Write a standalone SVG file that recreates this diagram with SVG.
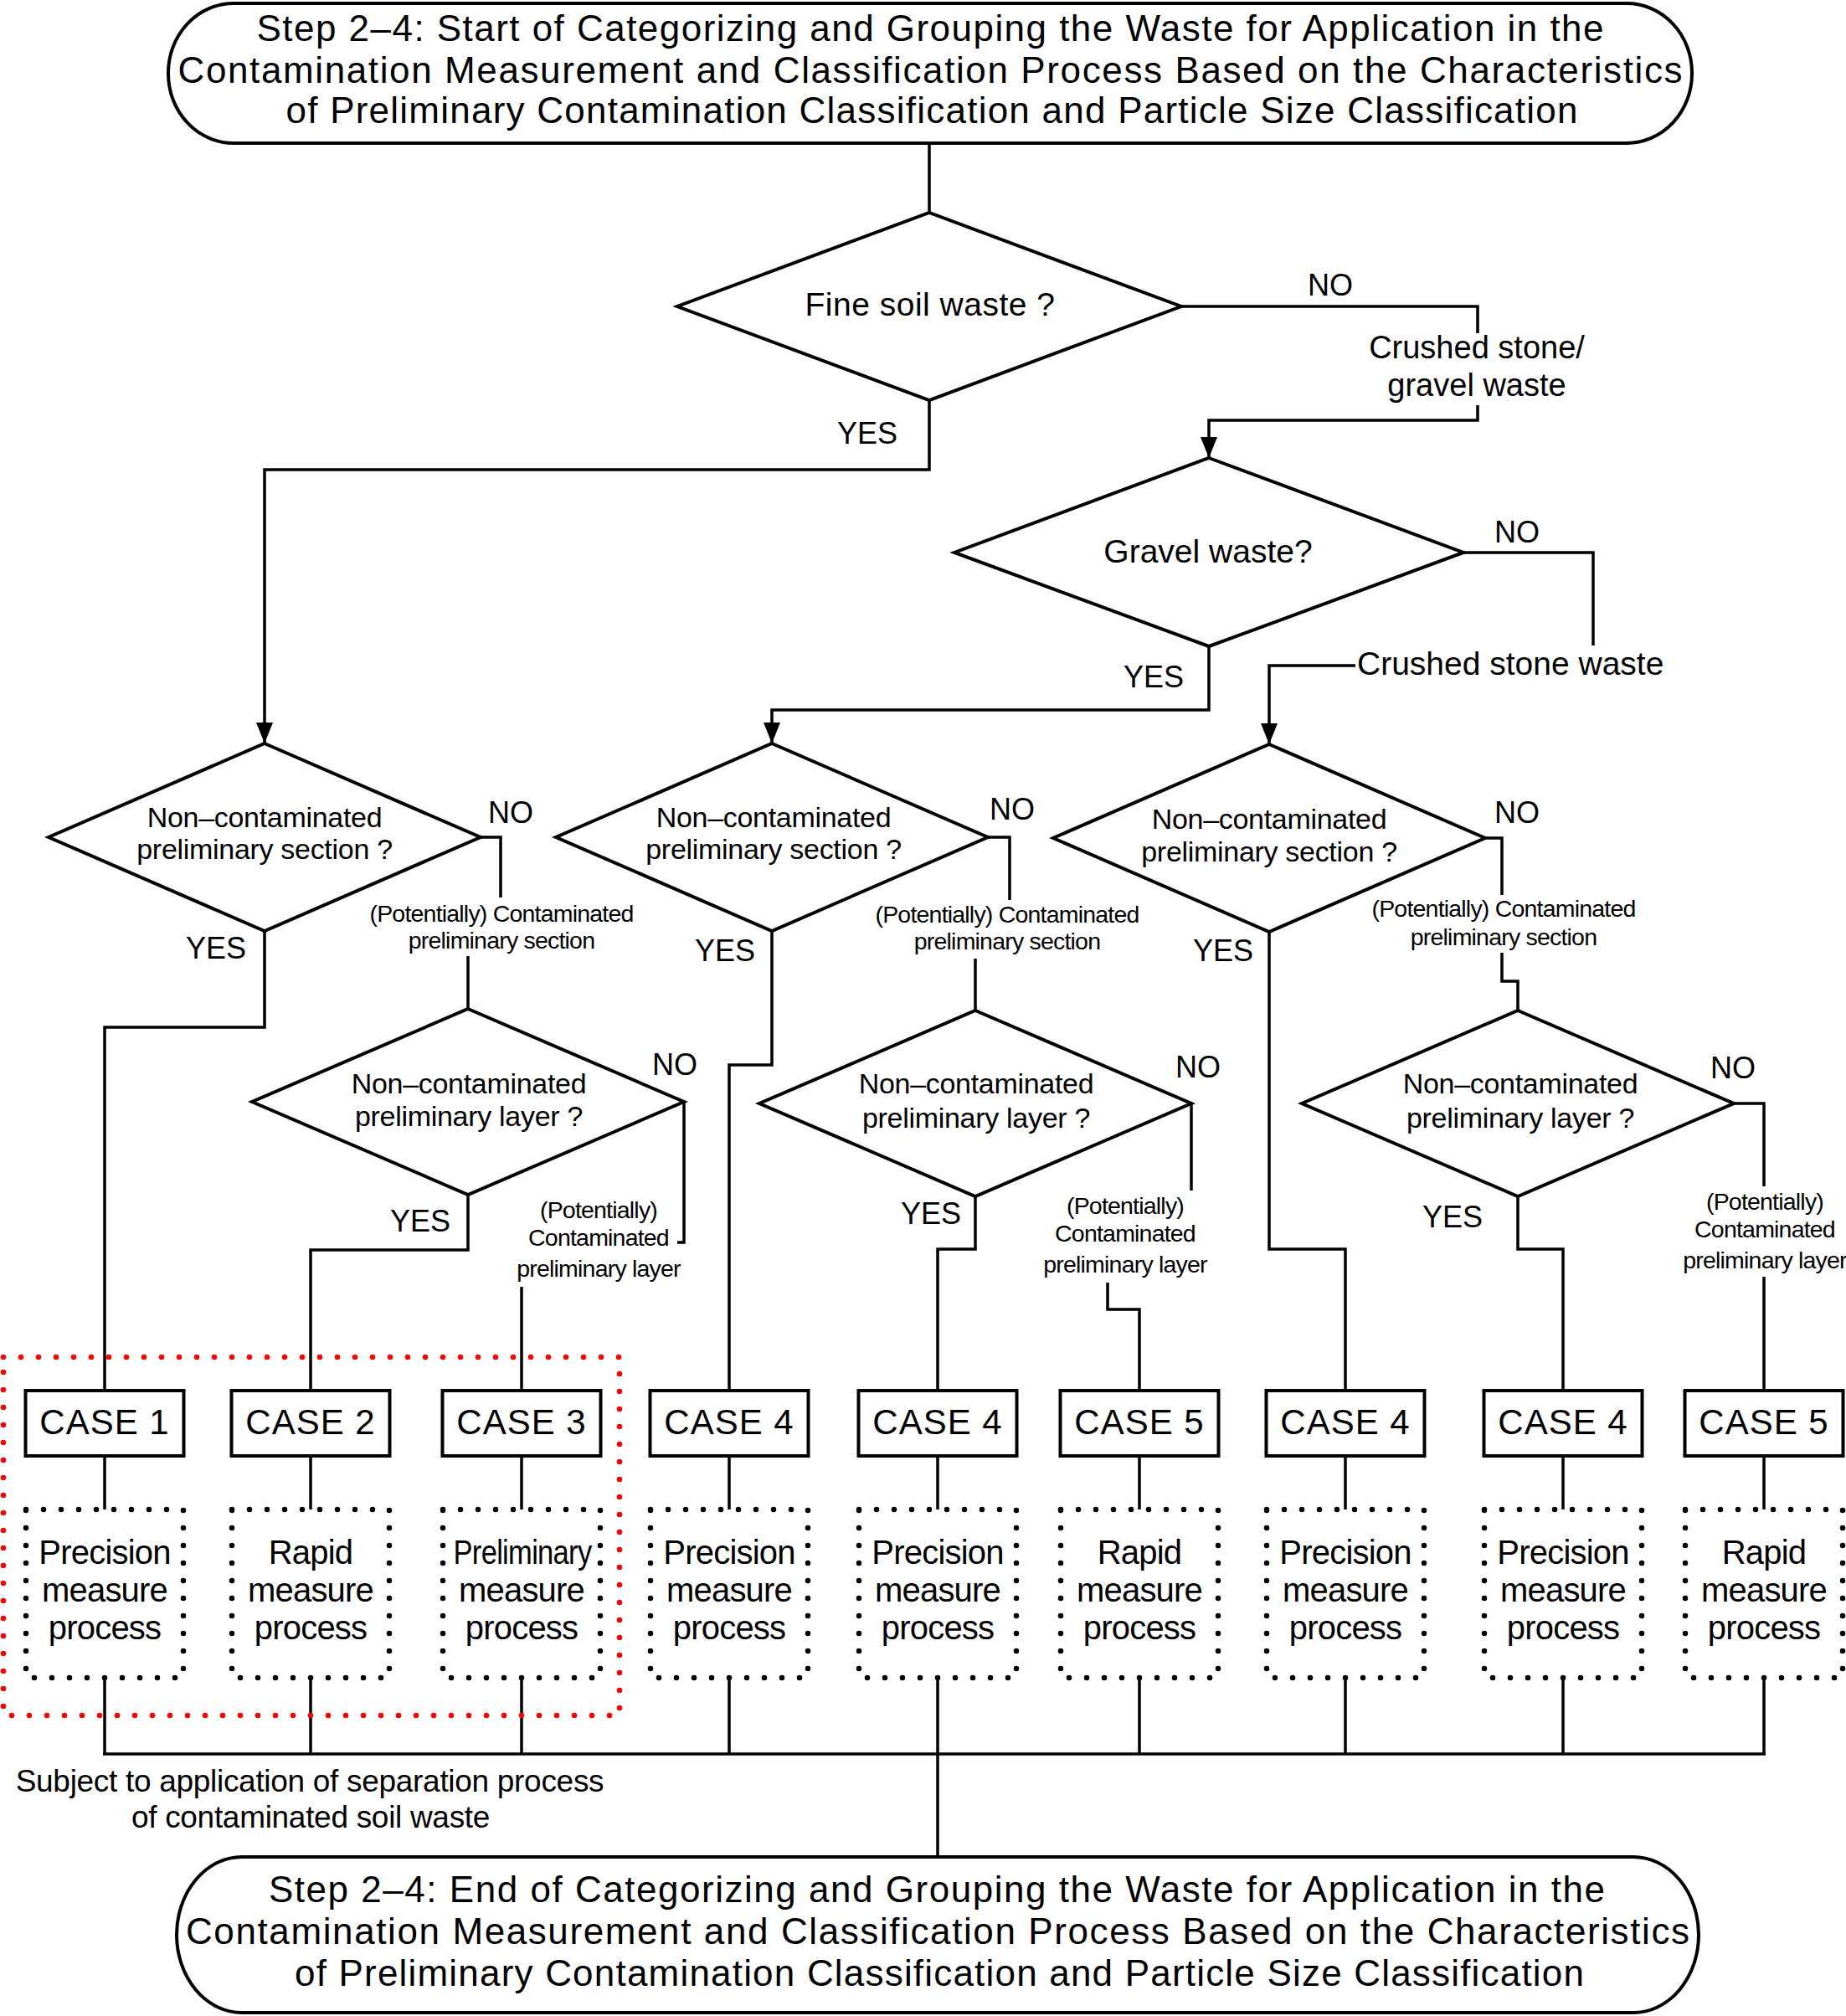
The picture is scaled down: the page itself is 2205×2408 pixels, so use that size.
<svg xmlns="http://www.w3.org/2000/svg" width="2205" height="2408" viewBox="0 0 2205 2408">
<style>
text{font-family:"Liberation Sans",Arial,sans-serif;fill:#000;text-anchor:middle}
.term{font-size:44px}
.q{font-size:39px}
.q2{font-size:38px}
.d{font-size:34px;letter-spacing:-0.3px}
.lab{font-size:28.5px;letter-spacing:-0.8px}
.yn{font-size:36px}
.case{font-size:42px;letter-spacing:1px}
.proc{font-size:40px;letter-spacing:-0.8px}
.sub{font-size:37px;letter-spacing:-0.3px}
.shape{fill:#fff;stroke:#000;stroke-width:4;stroke-linejoin:miter}
.conn{fill:none;stroke:#000;stroke-width:3.5}
.dots{fill:none;stroke:#000;stroke-width:6.5;stroke-dasharray:0 21;stroke-linecap:round}
.red{fill:none;stroke:#f00;stroke-width:6.5;stroke-dasharray:0 21;stroke-linecap:round}
</style>
<defs>
<marker id="arr" markerUnits="userSpaceOnUse" markerWidth="26" markerHeight="22" refX="25" refY="10" orient="auto">
<path d="M0,0 L25,10 L0,20 z" fill="#000"/>
</marker>
</defs>

<g id="connectors">
<path class="conn" d="M1110,171 V254"/>
<path class="conn" d="M1110,478 V561 H316 V888" marker-end="url(#arr)"/>
<path class="conn" d="M1411,366 H1765 V398"/>
<path class="conn" d="M1765,484 V502 H1444 V547" marker-end="url(#arr)"/>
<path class="conn" d="M1444,772 V848 H922 V888" marker-end="url(#arr)"/>
<path class="conn" d="M1748,660 H1903 V771"/>
<path class="conn" d="M1619,795 H1516 V889" marker-end="url(#arr)"/>
<path class="conn" d="M316,1112 V1227 H125 V1661"/>
<path class="conn" d="M574,1000 H598 V1072"/>
<path class="conn" d="M559,1142 V1205"/>
<path class="conn" d="M922,1112 V1272 H871 V1661"/>
<path class="conn" d="M1180,1000 H1206 V1075"/>
<path class="conn" d="M1165,1145 V1207"/>
<path class="conn" d="M1516,1113 V1492 H1607 V1661"/>
<path class="conn" d="M1774,1001 H1794 V1069"/>
<path class="conn" d="M1794,1138 V1172 H1813 V1207"/>
<path class="conn" d="M559,1427 V1493 H371 V1661"/>
<path class="conn" d="M817,1316 V1484 H809"/>
<path class="conn" d="M623,1537 V1661"/>
<path class="conn" d="M1165,1429 V1492 H1120 V1661"/>
<path class="conn" d="M1423,1318 V1422"/>
<path class="conn" d="M1323,1532 V1564 H1361 V1661"/>
<path class="conn" d="M1813,1429 V1492 H1867 V1661"/>
<path class="conn" d="M2071,1318 H2107 V1417"/>
<path class="conn" d="M2107,1525 V1661"/>
<path class="conn" d="M125,1739 V1803 M371,1739 V1803 M623,1739 V1803 M871,1739 V1803 M1120,1739 V1803 M1361,1739 V1803 M1607,1739 V1803 M1867,1739 V1803 M2107,1739 V1803"/>
<path class="conn" d="M125,2004 V2095 M371,2004 V2095 M623,2004 V2095 M871,2004 V2095 M1120,2004 V2095 M1361,2004 V2095 M1607,2004 V2095 M1867,2004 V2095 M2107,2004 V2095"/>
<path class="conn" stroke-width="4.5" d="M123,2095 H2109"/>
<path class="conn" d="M1120,2095 V2218"/>
</g>

<g id="labels">
<text class="yn" x="1589" y="353">NO</text>
<text class="yn" x="1036" y="530">YES</text>
<text class="q2" x="1764" y="428">Crushed stone/</text>
<text class="q2" x="1764" y="473">gravel waste</text>
<text class="yn" x="1812" y="648">NO</text>
<text class="yn" x="1378" y="821">YES</text>
<text class="q" x="1621" y="806" style="text-anchor:start">Crushed stone waste</text>
<text class="yn" x="610" y="983">NO</text>
<text class="yn" x="258" y="1145">YES</text>
<text class="yn" x="1209" y="979">NO</text>
<text class="yn" x="866" y="1148">YES</text>
<text class="yn" x="1812" y="983">NO</text>
<text class="yn" x="1461" y="1148">YES</text>
<text class="lab" x="599" y="1101">(Potentially) Contaminated</text>
<text class="lab" x="599" y="1133">preliminary section</text>
<text class="lab" x="1203" y="1102">(Potentially) Contaminated</text>
<text class="lab" x="1203" y="1134">preliminary section</text>
<text class="lab" x="1796" y="1095">(Potentially) Contaminated</text>
<text class="lab" x="1796" y="1129">preliminary section</text>
<text class="yn" x="806" y="1284">NO</text>
<text class="yn" x="502" y="1471">YES</text>
<text class="yn" x="1431" y="1287">NO</text>
<text class="yn" x="1112" y="1462">YES</text>
<text class="yn" x="2070" y="1288">NO</text>
<text class="yn" x="1735" y="1466">YES</text>
<text class="lab" x="715" y="1455">(Potentially)</text>
<text class="lab" x="715" y="1488">Contaminated</text>
<text class="lab" x="715" y="1525">preliminary layer</text>
<text class="lab" x="1344" y="1450">(Potentially)</text>
<text class="lab" x="1344" y="1483">Contaminated</text>
<text class="lab" x="1344" y="1520">preliminary layer</text>
<text class="lab" x="2108" y="1445">(Potentially)</text>
<text class="lab" x="2108" y="1478">Contaminated</text>
<text class="lab" x="2108" y="1515">preliminary layer</text>
<text class="sub" x="370" y="2140">Subject to application of separation process</text>
<text class="sub" x="371" y="2183">of contaminated soil waste</text>
</g>

<g id="start">
<rect class="shape" x="201" y="4" width="1820" height="167" rx="78" ry="83"/>
<text class="term" x="1111" y="49" textLength="1609" lengthAdjust="spacing">Step 2–4: Start of Categorizing and Grouping the Waste for Application in the</text>
<text class="term" x="1111" y="99" textLength="1797" lengthAdjust="spacing">Contamination Measurement and Classification Process Based on the Characteristics</text>
<text class="term" x="1113" y="147" textLength="1543" lengthAdjust="spacing">of Preliminary Contamination Classification and Particle Size Classification</text>
</g>

<g id="d-fine-soil">
<polygon class="shape" points="1110,254 1411,366 1110,478 809,366"/>
<text class="q" x="1111" y="377" letter-spacing="0.5">Fine soil waste ?</text>
</g>
<g id="d-gravel">
<polygon class="shape" points="1444,547 1748,660 1444,772 1140,660"/>
<text class="q" x="1443" y="672">Gravel waste?</text>
</g>
<g id="d-section-1">
<polygon class="shape" points="316,888 574,1000 316,1112 58,1000"/>
<text class="d" x="316" y="988">Non–contaminated</text>
<text class="d" x="316" y="1026">preliminary section ?</text>
</g>
<g id="d-section-2">
<polygon class="shape" points="922,888 1180,1000 922,1112 664,1000"/>
<text class="d" x="924" y="988">Non–contaminated</text>
<text class="d" x="924" y="1026">preliminary section ?</text>
</g>
<g id="d-section-3">
<polygon class="shape" points="1516,889 1774,1001 1516,1113 1258,1001"/>
<text class="d" x="1516" y="990">Non–contaminated</text>
<text class="d" x="1516" y="1029">preliminary section ?</text>
</g>
<g id="d-layer-1">
<polygon class="shape" points="559,1205 817,1316 559,1427 301,1316"/>
<text class="d" x="560" y="1306">Non–contaminated</text>
<text class="d" x="560" y="1345">preliminary layer ?</text>
</g>
<g id="d-layer-2">
<polygon class="shape" points="1165,1207 1423,1318 1165,1429 907,1318"/>
<text class="d" x="1166" y="1306">Non–contaminated</text>
<text class="d" x="1166" y="1347">preliminary layer ?</text>
</g>
<g id="d-layer-3">
<polygon class="shape" points="1813,1207 2071,1318 1813,1429 1555,1318"/>
<text class="d" x="1816" y="1306">Non–contaminated</text>
<text class="d" x="1816" y="1347">preliminary layer ?</text>
</g>

<g id="group-separation">
<rect class="red" x="4" y="1621" width="736" height="428"/>
</g>

<g id="case-1"><rect class="shape" x="30.5" y="1661" width="189" height="78"/><text class="case" x="125" y="1713">CASE 1</text></g>
<g id="case-2"><rect class="shape" x="276.5" y="1661" width="189" height="78"/><text class="case" x="371" y="1713">CASE 2</text></g>
<g id="case-3"><rect class="shape" x="528.5" y="1661" width="189" height="78"/><text class="case" x="623" y="1713">CASE 3</text></g>
<g id="case-4a"><rect class="shape" x="776.5" y="1661" width="189" height="78"/><text class="case" x="871" y="1713">CASE 4</text></g>
<g id="case-4b"><rect class="shape" x="1025.5" y="1661" width="189" height="78"/><text class="case" x="1120" y="1713">CASE 4</text></g>
<g id="case-5a"><rect class="shape" x="1266.5" y="1661" width="189" height="78"/><text class="case" x="1361" y="1713">CASE 5</text></g>
<g id="case-4c"><rect class="shape" x="1512.5" y="1661" width="189" height="78"/><text class="case" x="1607" y="1713">CASE 4</text></g>
<g id="case-4d"><rect class="shape" x="1772.5" y="1661" width="189" height="78"/><text class="case" x="1867" y="1713">CASE 4</text></g>
<g id="case-5b"><rect class="shape" x="2012.5" y="1661" width="189" height="78"/><text class="case" x="2107" y="1713">CASE 5</text></g>

<g id="proc-1"><rect class="dots" x="31" y="1803" width="188" height="201"/><text class="proc" x="125" y="1868">Precision</text><text class="proc" x="125" y="1913">measure</text><text class="proc" x="125" y="1958">process</text></g>
<g id="proc-2"><rect class="dots" x="277" y="1803" width="188" height="201"/><text class="proc" x="371" y="1868">Rapid</text><text class="proc" x="371" y="1913">measure</text><text class="proc" x="371" y="1958">process</text></g>
<g id="proc-3"><rect class="dots" x="529" y="1803" width="188" height="201"/><text class="proc" x="624" y="1868" textLength="165" lengthAdjust="spacingAndGlyphs">Preliminary</text><text class="proc" x="623" y="1913">measure</text><text class="proc" x="623" y="1958">process</text></g>
<g id="proc-4"><rect class="dots" x="777" y="1803" width="188" height="201"/><text class="proc" x="871" y="1868">Precision</text><text class="proc" x="871" y="1913">measure</text><text class="proc" x="871" y="1958">process</text></g>
<g id="proc-5"><rect class="dots" x="1026" y="1803" width="188" height="201"/><text class="proc" x="1120" y="1868">Precision</text><text class="proc" x="1120" y="1913">measure</text><text class="proc" x="1120" y="1958">process</text></g>
<g id="proc-6"><rect class="dots" x="1267" y="1803" width="188" height="201"/><text class="proc" x="1361" y="1868">Rapid</text><text class="proc" x="1361" y="1913">measure</text><text class="proc" x="1361" y="1958">process</text></g>
<g id="proc-7"><rect class="dots" x="1513" y="1803" width="188" height="201"/><text class="proc" x="1607" y="1868">Precision</text><text class="proc" x="1607" y="1913">measure</text><text class="proc" x="1607" y="1958">process</text></g>
<g id="proc-8"><rect class="dots" x="1773" y="1803" width="188" height="201"/><text class="proc" x="1867" y="1868">Precision</text><text class="proc" x="1867" y="1913">measure</text><text class="proc" x="1867" y="1958">process</text></g>
<g id="proc-9"><rect class="dots" x="2013" y="1803" width="188" height="201"/><text class="proc" x="2107" y="1868">Rapid</text><text class="proc" x="2107" y="1913">measure</text><text class="proc" x="2107" y="1958">process</text></g>

<g id="end">
<rect class="shape" x="211" y="2218" width="1818" height="186" rx="78" ry="93"/>
<text class="term" x="1119" y="2272" textLength="1596" lengthAdjust="spacing">Step 2–4: End of Categorizing and Grouping the Waste for Application in the</text>
<text class="term" x="1120" y="2322" textLength="1796" lengthAdjust="spacing">Contamination Measurement and Classification Process Based on the Characteristics</text>
<text class="term" x="1122" y="2372" textLength="1540" lengthAdjust="spacing">of Preliminary Contamination Classification and Particle Size Classification</text>
</g>
</svg>
